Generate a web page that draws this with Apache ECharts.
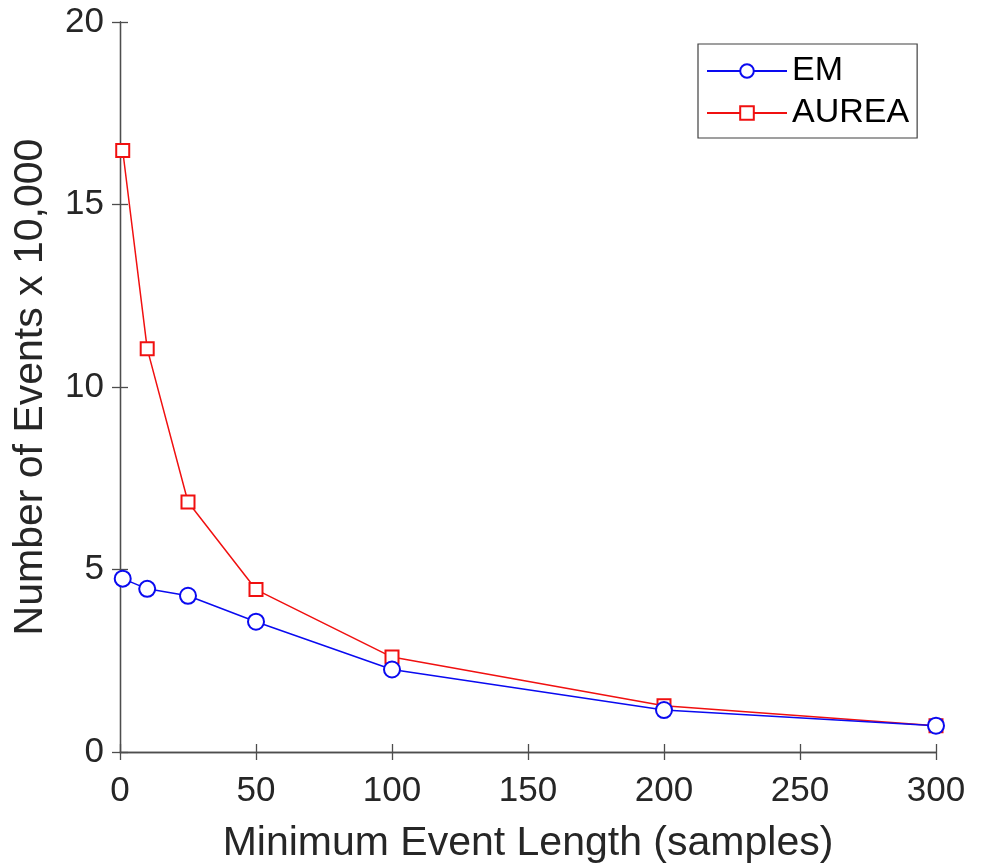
<!DOCTYPE html>
<html><head><meta charset="utf-8">
<script src="https://cdn.jsdelivr.net/npm/echarts@6/dist/echarts.min.js"></script>
<style>html,body{margin:0;padding:0;background:#fff}#c{width:981px;height:863px}</style>
</head><body><div id="c"></div>
<script>
const xValues = [1, 10, 25, 50, 100, 200, 300];
const emValues = [4.75, 4.47, 4.28, 3.57, 2.26, 1.15, 0.72];
const aureaValues = [16.48, 11.05, 6.85, 4.45, 2.6, 1.27, 0.72];
const seriesNames = ['EM', 'AUREA'];
const xTitle = 'Minimum Event Length (samples)';
const yTitle = 'Number of Events x 10,000';

const font = 'Liberation Sans, Arial, sans-serif';
const axisCol = '#4d4d4d';
const txtCol = '#262626';
const chart = echarts.init(document.getElementById('c'));
const baseAxis = {
  type: 'value',
  axisLine: { show: true, lineStyle: { color: axisCol, width: 1.3 } },
  axisTick: { show: true, inside: true, length: 8, lineStyle: { color: axisCol, width: 1.3 } },
  splitLine: { show: false }
};
chart.setOption({
  animation: false,
  grid: { left: 120, right: 45, top: 22, bottom: 111, containLabel: false, outerBoundsMode: 'none' },
  legend: {
    left: 698, top: 44,
    orient: 'vertical',
    data: seriesNames,
    itemWidth: 80, itemHeight: 17, itemGap: 8,
    padding: [10, 8, 8, 8],
    borderColor: '#404040', borderWidth: 1.2,
    backgroundColor: '#fff',
    textStyle: { fontFamily: font, fontSize: 34, lineHeight: 34, color: '#000' }
  },
  xAxis: [
    Object.assign({}, baseAxis, {
      min: 0, max: 300, interval: 50, position: 'bottom',
      axisLabel: { fontFamily: font, fontSize: 35, color: txtCol, margin: 22 },
      name: xTitle, nameLocation: 'middle', nameGap: 71,
      nameTextStyle: { fontFamily: font, fontSize: 41, color: txtCol }
    }),
    Object.assign({}, baseAxis, {
      min: 0, max: 300, interval: 50, position: 'top',
      axisLabel: { show: false }
    })
  ],
  yAxis: [
    Object.assign({}, baseAxis, {
      min: 0, max: 20, interval: 5, position: 'left',
      axisLabel: { fontFamily: font, fontSize: 35, color: txtCol, margin: 16 },
      name: yTitle, nameLocation: 'middle', nameGap: 69,
      nameTextStyle: { fontFamily: font, fontSize: 41, color: txtCol }
    }),
    Object.assign({}, baseAxis, {
      min: 0, max: 20, interval: 5, position: 'right',
      axisLabel: { show: false }
    })
  ],
  series: [
    {
      name: seriesNames[0], type: 'line',
      data: xValues.map((x, i) => [x, emValues[i]]),
      symbol: 'emptyCircle', symbolSize: 16,
      lineStyle: { color: '#0a0af0', width: 1.5 },
      itemStyle: { color: '#0a0af0', borderWidth: 1.5 },
      z: 3
    },
    {
      name: seriesNames[1], type: 'line',
      data: xValues.map((x, i) => [x, aureaValues[i]]),
      symbol: 'emptyRect', symbolSize: 13,
      lineStyle: { color: '#f01010', width: 1.5 },
      itemStyle: { color: '#f01010', borderWidth: 1.5 },
      z: 2
    }
  ]
});
</script></body></html>
